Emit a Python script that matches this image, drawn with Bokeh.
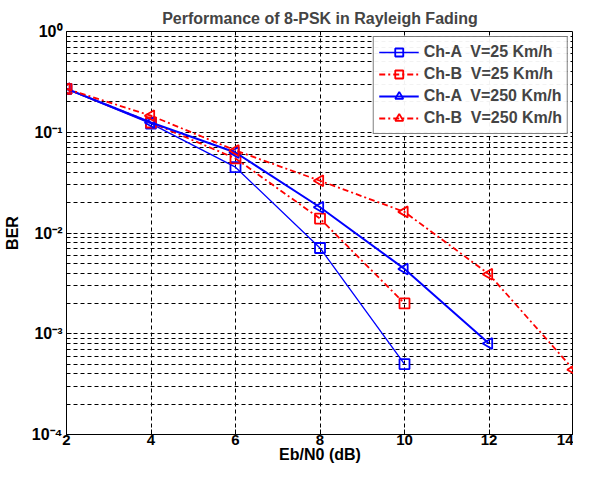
from bokeh.plotting import figure
from bokeh.models import FixedTicker, Legend, LegendItem
from bokeh.embed import file_html
from bokeh.resources import INLINE

ebn0 = [2, 4, 6, 8, 10, 12, 14]
cha_25 = [0.27, 0.122, 0.045, 0.0071, 0.0005]
chb_25 = [0.27, 0.125, 0.055, 0.0139, 0.002]
cha_250 = [0.27, 0.125, 0.063, 0.018, 0.0044, 0.0008]
chb_250 = [0.27, 0.146, 0.066, 0.033, 0.0162, 0.0039, 0.00044]
labels = ["Ch-A  V=25 Km/h", "Ch-B  V=25 Km/h", "Ch-A  V=250 Km/h", "Ch-B  V=250 Km/h"]
y_major = [1e-4, 1e-3, 1e-2, 1e-1, 1e0]
y_labels = ["10\u207b\u2074", "10\u207b\u00b3", "10\u207b\u00b2", "10\u207b\u00b9", "10\u2070"]
x_major = [2, 4, 6, 8, 10, 12, 14]

FONT = "Liberation Sans"
BLUE = "#0000ff"
RED = "#ff0000"

p = figure(width=573, height=466, y_axis_type="log", x_range=(2, 14), y_range=(1e-4, 1),
           output_backend="svg", toolbar_location=None,
           min_border_left=58, min_border_top=31, min_border_right=0, min_border_bottom=32)
p.title.text = "Performance of 8-PSK in Rayleigh Fading"
p.title.align = "center"
p.title.text_font = FONT
p.title.text_font_size = "16px"
p.title.text_font_style = "bold"
p.title.standoff = 9

minor = [m * 10.0 ** k for k in range(-4, 0) for m in range(2, 10)]
p.yaxis.ticker = FixedTicker(ticks=y_major, minor_ticks=minor)
p.xaxis.ticker = FixedTicker(ticks=x_major)
p.yaxis.major_label_overrides = dict(zip(y_major, y_labels))

for ax in (p.xaxis[0], p.yaxis[0]):
    ax.major_label_text_font = FONT
    ax.major_label_text_font_style = "bold"
    ax.major_label_text_font_size = "16px"
    ax.major_label_text_color = "black"
    ax.axis_label_text_font = FONT
    ax.axis_label_text_font_style = "bold"
    ax.axis_label_text_font_size = "16px"
    ax.axis_label_text_color = "black"
    ax.major_tick_in = 5
    ax.major_tick_out = 0
    ax.minor_tick_in = 0
    ax.minor_tick_out = 0
    ax.axis_line_color = "black"
    ax.major_tick_line_color = "black"
p.xaxis.major_label_text_font_size = "15px"
p.xaxis.major_label_standoff = 0
p.xaxis.axis_label_standoff = -2
p.yaxis.major_label_standoff = 4
p.yaxis.axis_label_standoff = 8
p.xaxis.axis_label = "Eb/N0 (dB)"
p.yaxis.axis_label = "BER"

p.xgrid.grid_line_color = "black"
p.xgrid.grid_line_dash = "4 3"
p.xgrid.grid_line_width = 1
p.ygrid.grid_line_color = "black"
p.ygrid.grid_line_dash = "4 3"
p.ygrid.minor_grid_line_color = "black"
p.ygrid.minor_grid_line_dash = "4 3"
p.outline_line_color = "black"

series = [
    (cha_25, BLUE, "solid", "square", 1.3),
    (chb_25, RED, "6 3 2 3", "square", 1.8),
    (cha_250, BLUE, "solid", "triangle", 2.0),
    (chb_250, RED, "6 3 2 3", "triangle", 1.8),
]
items = []
for (ys, col, dash, mk, lw), lab in zip(series, labels):
    xs = ebn0[:len(ys)]
    r1 = p.line(xs, ys, line_color=col, line_dash=dash, line_width=lw)
    if mk == "triangle":
        r2 = p.scatter(xs, ys, marker="triangle", size=11, angle=90, angle_units="deg",
                       line_color=col, line_width=1.8, fill_color=None)
    else:
        r2 = p.scatter(xs, ys, marker="square", size=10, line_color=col, line_width=1.8,
                       fill_color=None)
    items.append(LegendItem(label=lab, renderers=[r1, r2]))

leg = Legend(items=items, location="top_right")
leg.label_text_font = FONT
leg.label_text_font_style = "bold"
leg.label_text_font_size = "16px"
leg.border_line_color = "black"
leg.border_line_width = 1
leg.glyph_width = 40
leg.glyph_height = 20
leg.spacing = 2
leg.padding = 5
leg.margin = 5
leg.label_standoff = 5
p.add_layout(leg)

open("out.html", "w").write(file_html(p, INLINE))
